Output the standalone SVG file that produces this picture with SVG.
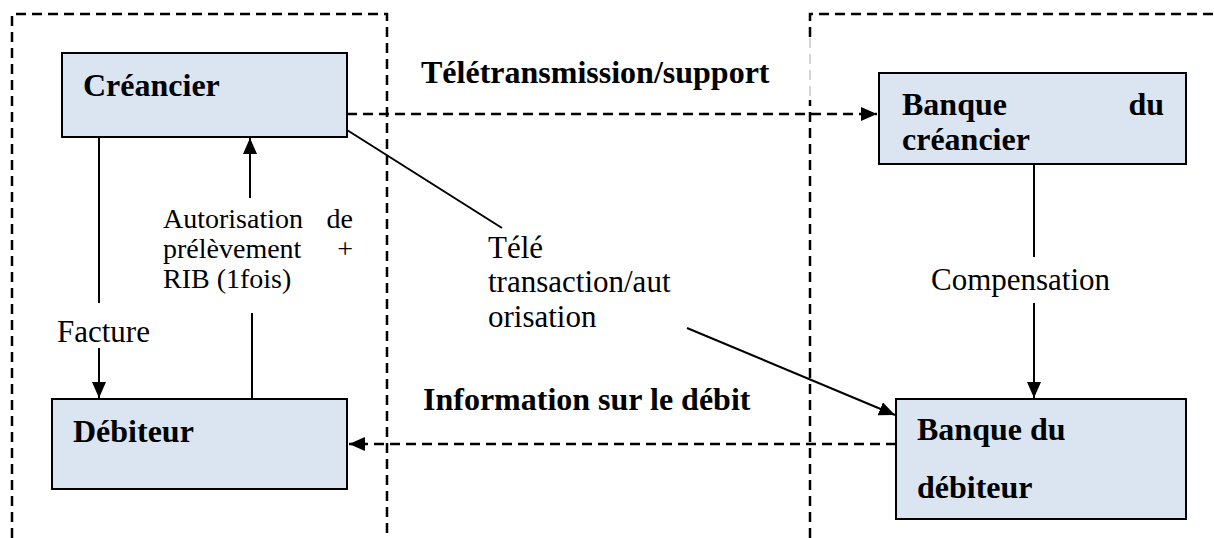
<svg xmlns="http://www.w3.org/2000/svg" width="1214" height="538" viewBox="0 0 1214 538">
<defs>
<style>
.box{fill:#dbe5f1;stroke:#000;stroke-width:2}
.frame{fill:none;stroke:#000;stroke-width:2.5;stroke-dasharray:10 6}
.ln{fill:none;stroke:#000;stroke-width:2}
.dash{fill:none;stroke:#000;stroke-width:2.5;stroke-dasharray:10 6}
.b{font-family:"Liberation Serif","DejaVu Serif",serif;font-weight:bold;font-size:32px;fill:#000}
.t{font-family:"Liberation Serif","DejaVu Serif",serif;font-size:31px;fill:#000}
.s{font-family:"Liberation Serif","DejaVu Serif",serif;font-size:28px;fill:#000}
</style>
<marker id="ah" viewBox="0 0 16 14" refX="16" refY="7" markerWidth="16" markerHeight="14" markerUnits="userSpaceOnUse" orient="auto">
<path d="M0,0 L16,7 L0,14 Z" fill="#000"/>
</marker>
</defs>
<rect width="1214" height="538" fill="#fff"/>
<g id="frames">
<path class="frame" d="M12,538 V14 H387 V538"/>
<path class="frame" d="M810,538 V100"/>
<path d="M810,38 V98" fill="none" stroke="#aaa" stroke-width="1" stroke-dasharray="10 6"/>
<path class="frame" d="M810,37 V14 H1214"/>
</g>
<g id="connectors">
<path class="dash" d="M347,114 H877" marker-end="url(#ah)"/>
<path class="dash" d="M896,444 H349" marker-end="url(#ah)"/>
<path class="ln" d="M99,137 V303"/>
<path class="ln" d="M99,348 V398" marker-end="url(#ah)"/>
<path class="ln" d="M252,399 V313"/>
<path class="ln" d="M250,198 V138" marker-end="url(#ah)"/>
<path class="ln" d="M1034,164 V257"/>
<path class="ln" d="M1034,303 V398" marker-end="url(#ah)"/>
<path class="ln" d="M347,130 L502,228" stroke-width="1.6"/>
<path class="ln" d="M687,328 L895,415" stroke-width="2.5" marker-end="url(#ah)"/>
</g>
<g id="creancier">
<rect class="box" x="62" y="53" width="285" height="84"/>
<text class="b" x="83" y="96">Créancier</text>
</g>
<g id="banque-creancier">
<rect class="box" x="879" y="73" width="307" height="91"/>
<text class="b" x="902" y="115">Banque</text>
<text class="b" x="1164" y="115" text-anchor="end">du</text>
<text class="b" x="902" y="150">créancier</text>
</g>
<g id="debiteur">
<rect class="box" x="52" y="399" width="295" height="90"/>
<text class="b" x="73" y="442">Débiteur</text>
</g>
<g id="banque-debiteur">
<rect class="box" x="896" y="399" width="290" height="120"/>
<text class="b" x="917" y="440">Banque du</text>
<text class="b" x="917" y="498">débiteur</text>
</g>
<g id="labels">
<text class="b" x="421" y="83">Télétransmission/support</text>
<text class="b" x="423" y="410">Information sur le débit</text>
<text class="t" x="488" y="258">Télé</text>
<text class="t" x="488" y="292">transaction/aut</text>
<text class="t" x="488" y="327">orisation</text>
<text class="s" x="163" y="228">Autorisation</text>
<text class="s" x="353" y="228" text-anchor="end">de</text>
<text class="s" x="163" y="258">prélèvement</text>
<text class="s" x="353" y="258" text-anchor="end">+</text>
<text class="s" x="163" y="288">RIB (1fois)</text>
<text class="t" x="57" y="342">Facture</text>
<text class="t" x="931" y="290">Compensation</text>
</g>
</svg>
